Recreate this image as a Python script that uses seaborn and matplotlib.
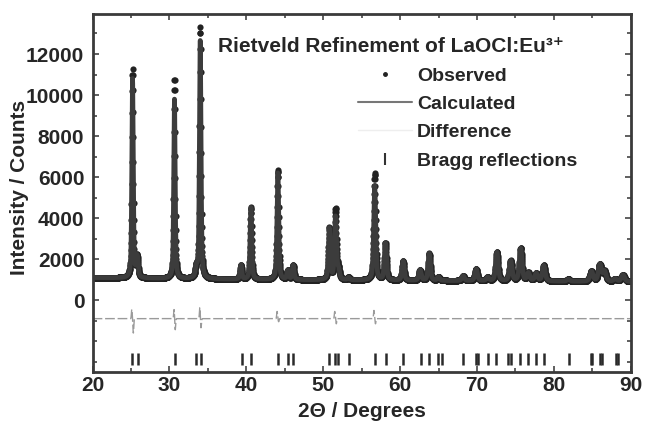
import numpy as np
import pandas as pd
import matplotlib
matplotlib.use("Agg")
import matplotlib.pyplot as plt
from matplotlib.lines import Line2D
import seaborn as sns

# ---- data ----
# peak positions (deg 2theta), net calculated / observed heights (counts above background)
peak_pos = [25.2, 25.8, 30.65, 33.5, 34.0, 39.3, 40.6, 44.1, 45.4, 46.1,
            50.8, 51.6, 52.0, 53.3, 56.7, 58.1, 60.4, 62.6, 63.8, 65.0,
            68.2, 69.9, 71.4, 72.6, 74.4, 75.7, 76.7, 77.7, 78.7, 81.9,
            84.9, 86.0, 86.6, 88.0, 89.0]
calc_height = [9700, 1000, 8800, 450, 11600, 700, 3500, 5200, 450, 700,
               2500, 3050, 450, 120, 4600, 1800, 950, 520, 1320, 180,
               250, 580, 170, 1400, 980, 1580, 380, 380, 760, 100,
               480, 830, 480, 130, 330]
obs_height = [10150, 1000, 9750, 450, 12250, 700, 3500, 5350, 450, 700,
              2500, 3450, 450, 120, 5200, 1800, 950, 520, 1320, 180,
              250, 580, 170, 1400, 980, 1580, 380, 380, 760, 100,
              480, 830, 480, 130, 330]
peak_fwhm = [0.22, 0.30, 0.22, 0.30, 0.24, 0.26, 0.26, 0.27, 0.28, 0.28,
             0.30, 0.30, 0.32, 0.32, 0.31, 0.32, 0.33, 0.34, 0.34, 0.35,
             0.37, 0.38, 0.38, 0.38, 0.40, 0.40, 0.40, 0.41, 0.42, 0.44,
             0.46, 0.46, 0.46, 0.48, 0.48]
bg_x = [20, 30, 40, 50, 60, 70, 80, 90]
bg_y = [1100, 1050, 1010, 980, 960, 940, 920, 900]

# difference curve features (position, signed amplitude)
diff_pos = [25.1, 25.3, 30.6, 30.75, 33.95, 34.1, 44.0, 44.2, 51.5, 51.7, 56.6, 56.8]
diff_amp = [450, -700, 450, -550, 550, -450, 350, -150, 350, -250, 400, -250]

bragg_pos = [25.17, 25.95, 30.7, 33.5, 34.05, 39.4, 40.6, 44.1, 45.4, 46.1,
             50.8, 51.5, 51.9, 53.4, 56.7, 58.2, 60.4, 62.7, 63.8, 64.9, 65.5,
             68.2, 69.9, 70.2, 71.5, 72.5, 74.1, 74.4, 75.6, 76.7, 77.7, 78.7,
             82.0, 84.8, 85.0, 86.0, 86.3, 88.1, 88.4]

diff_offset = -900
bragg_level = -2850

# ---- build profiles from the peak table ----
tt = np.arange(20.0, 90.0001, 0.02)
bg = np.interp(tt, bg_x, bg_y)

def profile(heights):
    y = bg.copy()
    for p, h, w in zip(peak_pos, heights, peak_fwhm):
        g = np.exp(-4 * np.log(2) * ((tt - p) / w) ** 2)
        l = 1.0 / (1 + 4 * ((tt - p) / w) ** 2)
        y += h * (0.5 * g + 0.5 * l)
    return y

calc = profile(calc_height)
obs = profile(obs_height)
diff = np.full_like(tt, diff_offset, dtype=float)
for p, a in zip(diff_pos, diff_amp):
    diff += a * np.exp(-4 * np.log(2) * ((tt - p) / 0.12) ** 2)

df = pd.DataFrame({"tt": tt, "obs": obs, "calc": calc, "diff": diff})
df_bragg = pd.DataFrame({"pos": bragg_pos, "lvl": [bragg_level] * len(bragg_pos)})

# ---- plotting ----
sns.set_style("ticks")
plt.rcParams["font.family"] = ["Liberation Sans", "DejaVu Sans"]
plt.rcParams["font.weight"] = "bold"

fig = plt.figure(figsize=(6.45, 4.4), dpi=100)
ax = fig.add_axes([92.6 / 645, 1 - 372 / 440, (630.7 - 92.6) / 645, (372 - 14) / 440])

sns.lineplot(data=df, x="tt", y="diff", ax=ax, color="#9a9a9a", lw=1.0,
             estimator=None, sort=False, legend=False, dashes=False)
ax.lines[-1].set_dashes([7, 2])
sns.scatterplot(data=df, x="tt", y="obs", ax=ax, color="#222222", s=20,
                linewidth=0, legend=False)
sns.lineplot(data=df, x="tt", y="calc", ax=ax, color="#3c3c3c", lw=3.4,
             estimator=None, sort=False, legend=False)
sns.scatterplot(data=df_bragg, x="pos", y="lvl", ax=ax, marker="|", s=70,
                color="#2a2a2a", linewidth=1.8, legend=False)

ax.set_xlim(20, 90)
ax.set_ylim(-3500, 13950)
ax.set_xticks(np.arange(20, 91, 10))
ax.set_xticks(np.arange(25, 90, 10), minor=True)
ax.set_yticks(np.arange(0, 12001, 2000))
ax.set_yticks(np.arange(-3000, 13001, 1000), minor=True)
ax.tick_params(which="both", direction="in", top=True, right=True,
               color="#444444", width=1.2)
ax.tick_params(which="major", length=4)
ax.tick_params(which="minor", length=3)
ax.tick_params(axis="x", which="major", labelsize=15, pad=3)
ax.tick_params(axis="y", which="major", labelsize=15, pad=6)
for lab in ax.get_xticklabels() + ax.get_yticklabels():
    lab.set_fontweight("bold")
for sp in ax.spines.values():
    sp.set_linewidth(2.0)
    sp.set_color("#3a3a3a")

ax.set_xlabel("2Θ / Degrees", fontsize=15, fontweight="bold")
ax.set_ylabel("Intensity / Counts", fontsize=15, fontweight="bold")
ax.xaxis.set_label_coords(0.5, -0.085)
ax.yaxis.set_label_coords(-0.118, 0.515)

fig.text(218 / 645, 1 - 46 / 440, "Rietveld Refinement of LaOCl:Eu³⁺",
         ha="left", va="center", fontsize=15, fontweight="bold")

handles = [
    Line2D([], [], ls="none", marker=".", color="#222222", markersize=5),
    Line2D([], [], color="#777777", lw=1.5),
    Line2D([], [], color="#eeeeee", lw=1.0),
    Line2D([], [], ls="none", marker="|", color="#333333", markersize=8, mew=1.5),
]
labels = ["Observed", "Calculated", "Difference", "Bragg reflections"]
leg = ax.legend(handles, labels, loc="upper left",
                bbox_to_anchor=(358 / 645, 1 - 67 / 440),
                bbox_transform=fig.transFigure, frameon=False,
                prop={"size": 14, "weight": "bold"}, handlelength=2.78,
                handletextpad=0.26, labelspacing=0.55, borderpad=0,
                borderaxespad=0)

fig.savefig("out.png", dpi=100)
